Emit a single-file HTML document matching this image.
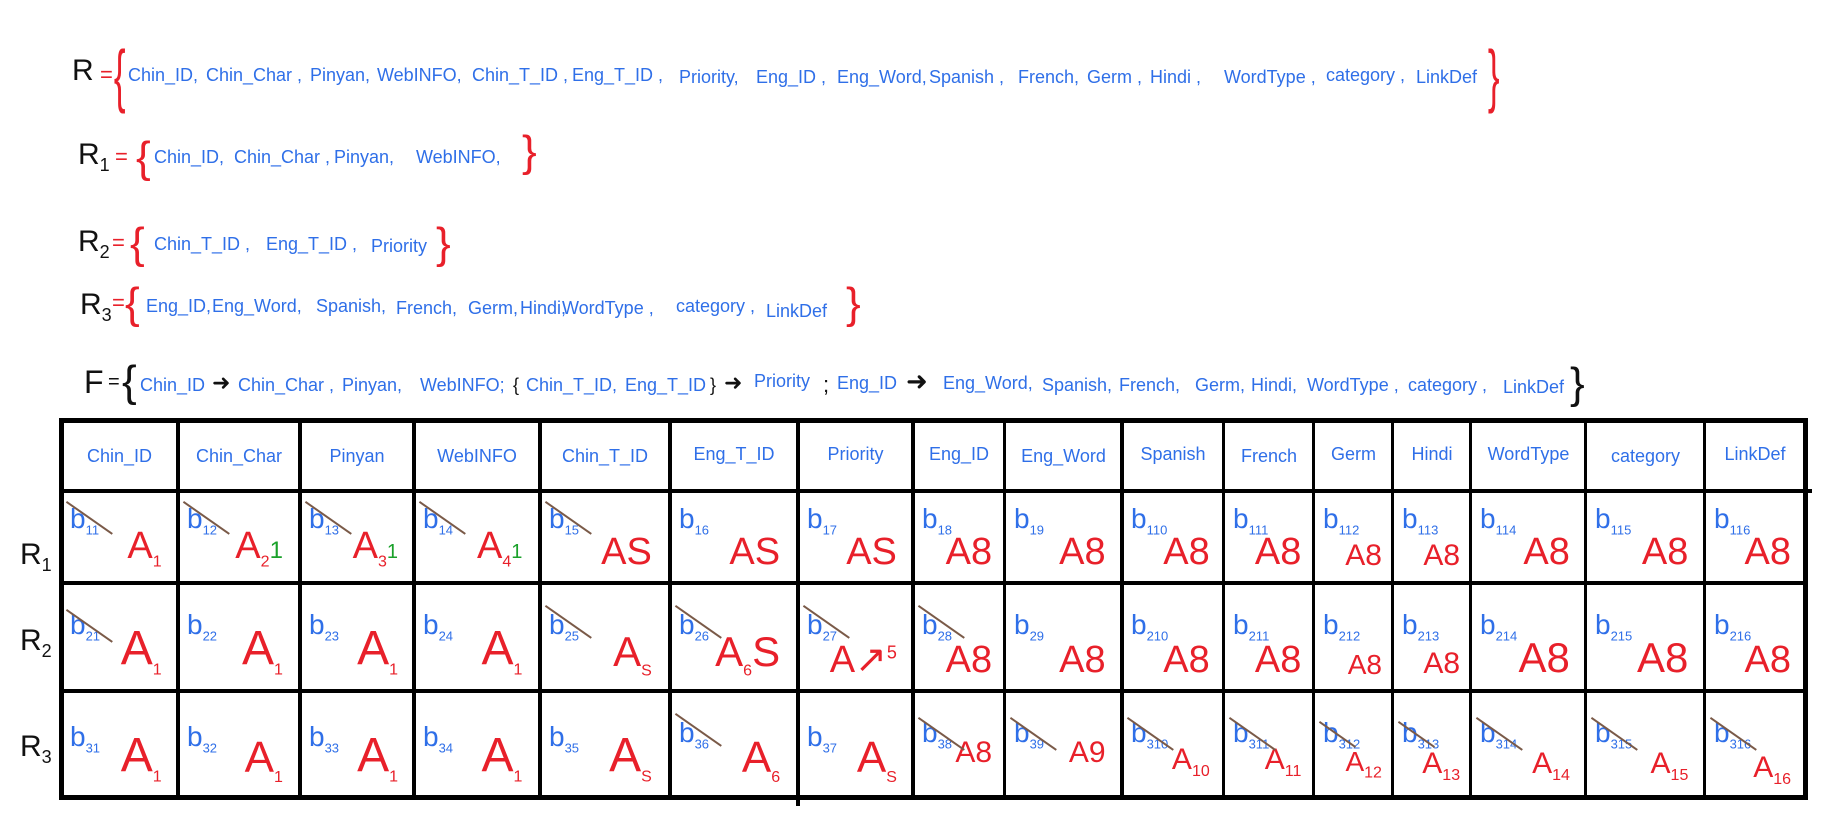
<!DOCTYPE html>
<html><head><meta charset="utf-8"><style>
body{margin:0;width:1828px;height:838px;background:#fff;position:relative;overflow:hidden;font-family:"Liberation Sans",sans-serif}
.t{position:absolute;color:#2f6fe8;font-size:18px;white-space:nowrap;line-height:1}
.L{position:absolute;color:#111;font-size:30px;line-height:1}
.L sub{font-size:18px}
.br{position:absolute;color:#e8202a;font-size:44px;line-height:1;font-weight:300}
.eq{position:absolute;color:#e8202a;font-size:22px;line-height:1}
.h{position:absolute;background:#000}
.hd{position:absolute;color:#2f6fe8;font-size:18px;text-align:center;top:446px;line-height:20px}
.c{position:absolute}
.c .b{position:absolute;left:9px;top:14px;color:#2f6fe8;font-size:28px;line-height:1;font-family:"Liberation Sans Narrow","Liberation Sans",sans-serif}
.c .b sub{font-size:13px}
.c .a{position:absolute;right:14%;bottom:12px;color:#e8202a;font-size:38px;line-height:1;font-family:"Liberation Sans Narrow","Liberation Sans",sans-serif}
.c .a sub{font-size:16px}
.c .x{position:absolute;left:6px;width:56px;height:2px;background:#7a5a48;transform:rotate(35deg);transform-origin:0 0;top:10px}
</style></head><body>
<div class="L" style="left:72px;top:56px">R</div>
<div class="eq" style="left:100px;top:64px">=</div>
<div class="br" style="left:108px;top:40px;font-size:70px;transform:scaleX(.5)">{</div>
<div class="t" style="left:128px;top:66px">Chin_ID,</div><div class="t" style="left:206px;top:66px">Chin_Char ,</div><div class="t" style="left:310px;top:66px">Pinyan,</div><div class="t" style="left:377px;top:66px">WebINFO,</div><div class="t" style="left:472px;top:66px">Chin_T_ID ,</div><div class="t" style="left:572px;top:66px">Eng_T_ID ,</div><div class="t" style="left:679px;top:68px">Priority,</div><div class="t" style="left:756px;top:68px">Eng_ID ,</div><div class="t" style="left:837px;top:68px">Eng_Word,</div><div class="t" style="left:929px;top:68px">Spanish ,</div><div class="t" style="left:1018px;top:68px">French,</div><div class="t" style="left:1087px;top:68px">Germ ,</div><div class="t" style="left:1150px;top:68px">Hindi ,</div><div class="t" style="left:1224px;top:68px">WordType ,</div><div class="t" style="left:1326px;top:66px">category ,</div><div class="t" style="left:1416px;top:68px">LinkDef</div>
<div class="br" style="left:1482px;top:40px;font-size:70px;transform:scaleX(.5)">}</div>
<div class="L" style="left:78px;top:140px">R<sub>1</sub></div>
<div class="eq" style="left:115px;top:146px">=</div>
<div class="br" style="left:136px;top:136px">{</div>
<div class="t" style="left:154px;top:148px">Chin_ID,</div><div class="t" style="left:234px;top:148px">Chin_Char ,</div><div class="t" style="left:334px;top:148px">Pinyan,</div><div class="t" style="left:416px;top:148px">WebINFO,</div>
<div class="br" style="left:522px;top:130px">}</div>
<div class="L" style="left:78px;top:227px">R<sub>2</sub></div>
<div class="eq" style="left:112px;top:232px">=</div>
<div class="br" style="left:130px;top:222px">{</div>
<div class="t" style="left:154px;top:235px">Chin_T_ID ,</div><div class="t" style="left:266px;top:235px">Eng_T_ID ,</div><div class="t" style="left:371px;top:237px">Priority</div>
<div class="br" style="left:436px;top:222px">}</div>
<div class="L" style="left:80px;top:290px">R<sub>3</sub></div>
<div class="eq" style="left:112px;top:292px">=</div>
<div class="br" style="left:125px;top:282px">{</div>
<div class="t" style="left:146px;top:297px">Eng_ID,</div><div class="t" style="left:212px;top:297px">Eng_Word,</div><div class="t" style="left:316px;top:297px">Spanish,</div><div class="t" style="left:396px;top:299px">French,</div><div class="t" style="left:468px;top:299px">Germ,</div><div class="t" style="left:520px;top:299px">Hindi,</div><div class="t" style="left:562px;top:299px">WordType ,</div><div class="t" style="left:676px;top:297px">category ,</div><div class="t" style="left:766px;top:302px">LinkDef</div>
<div class="br" style="left:846px;top:282px">}</div>
<div class="L" style="left:84px;top:366px;font-size:32px">F</div>
<div class="L" style="left:108px;top:372px;font-size:20px">=</div>
<div class="br" style="left:122px;top:360px;color:#111">{</div>
<div class="t" style="left:140px;top:376px">Chin_ID</div><div class="L" style="left:212px;top:372px;font-size:22px">➜</div><div class="t" style="left:238px;top:376px">Chin_Char ,</div><div class="t" style="left:342px;top:376px">Pinyan,</div><div class="t" style="left:420px;top:376px">WebINFO;</div>
<div class="t" style="left:513px;top:376px;color:#111">{</div><div class="t" style="left:526px;top:376px">Chin_T_ID,</div><div class="t" style="left:625px;top:376px">Eng_T_ID</div><div class="t" style="left:710px;top:376px;color:#111">}</div><div class="L" style="left:724px;top:372px;font-size:22px">➜</div><div class="t" style="left:754px;top:372px">Priority</div><div class="L" style="left:823px;top:374px;font-size:22px">;</div>
<div class="t" style="left:837px;top:374px">Eng_ID</div><div class="L" style="left:906px;top:368px;font-size:26px">➜</div><div class="t" style="left:943px;top:374px">Eng_Word,</div><div class="t" style="left:1042px;top:376px">Spanish,</div><div class="t" style="left:1119px;top:376px">French,</div><div class="t" style="left:1195px;top:376px">Germ,</div><div class="t" style="left:1251px;top:376px">Hindi,</div><div class="t" style="left:1307px;top:376px">WordType ,</div><div class="t" style="left:1408px;top:376px">category ,</div><div class="t" style="left:1503px;top:378px">LinkDef</div>
<div class="br" style="left:1570px;top:362px;color:#111">}</div>
<div class="h" style="left:60px;top:418px;width:1748px;height:5px"></div>
<div class="h" style="left:60px;top:489px;width:1752px;height:4px"></div>
<div class="h" style="left:60px;top:581px;width:1748px;height:4px"></div>
<div class="h" style="left:60px;top:689px;width:1748px;height:4px"></div>
<div class="h" style="left:60px;top:795px;width:1748px;height:5px"></div>
<div class="h" style="left:59px;top:418px;width:5px;height:382px"></div>
<div class="h" style="left:176px;top:418px;width:4px;height:382px"></div>
<div class="h" style="left:298px;top:418px;width:4px;height:382px"></div>
<div class="h" style="left:412px;top:418px;width:4px;height:382px"></div>
<div class="h" style="left:538px;top:418px;width:4px;height:382px"></div>
<div class="h" style="left:668px;top:418px;width:4px;height:382px"></div>
<div class="h" style="left:796px;top:418px;width:4px;height:388px"></div>
<div class="h" style="left:911px;top:418px;width:4px;height:382px"></div>
<div class="h" style="left:1003px;top:418px;width:3px;height:382px"></div>
<div class="h" style="left:1120px;top:418px;width:4px;height:382px"></div>
<div class="h" style="left:1222px;top:418px;width:3px;height:382px"></div>
<div class="h" style="left:1312px;top:418px;width:3px;height:382px"></div>
<div class="h" style="left:1391px;top:418px;width:3px;height:382px"></div>
<div class="h" style="left:1469px;top:418px;width:3px;height:382px"></div>
<div class="h" style="left:1584px;top:418px;width:3px;height:382px"></div>
<div class="h" style="left:1703px;top:418px;width:3px;height:382px"></div>
<div class="h" style="left:1803px;top:418px;width:5px;height:382px"></div>
<div class="hd" style="left:61px;width:117px">Chin_ID</div><div class="hd" style="left:178px;width:122px">Chin_Char</div><div class="hd" style="left:300px;width:114px">Pinyan</div><div class="hd" style="left:414px;width:126px">WebINFO</div><div class="hd" style="left:540px;width:130px">Chin_T_ID</div><div class="hd" style="left:670px;width:128px;top:444px">Eng_T_ID</div><div class="hd" style="left:798px;width:115px;top:444px">Priority</div><div class="hd" style="left:913px;width:92px;top:444px">Eng_ID</div><div class="hd" style="left:1005px;width:117px">Eng_Word</div><div class="hd" style="left:1122px;width:102px;top:444px">Spanish</div><div class="hd" style="left:1224px;width:90px">French</div><div class="hd" style="left:1314px;width:79px;top:444px">Germ</div><div class="hd" style="left:1393px;width:78px;top:444px">Hindi</div><div class="hd" style="left:1471px;width:115px;top:444px">WordType</div><div class="hd" style="left:1586px;width:119px">category</div><div class="hd" style="left:1705px;width:100px;top:444px">LinkDef</div>
<div class="L" style="left:20px;top:540px">R<sub>1</sub></div>
<div class="L" style="left:20px;top:626px">R<sub>2</sub></div>
<div class="L" style="left:20px;top:732px">R<sub>3</sub></div>
<div class="c" style="left:61px;top:491px;width:117px;height:92px"><span class="b">b<sub>11</sub></span><span class="a">A<sub>1</sub></span><i class="x"></i></div>
<div class="c" style="left:178px;top:491px;width:122px;height:92px"><span class="b">b<sub>12</sub></span><span class="a">A<sub>2</sub><span style="color:#1aa12a;font-size:24px">1</span></span><i class="x"></i></div>
<div class="c" style="left:300px;top:491px;width:114px;height:92px"><span class="b">b<sub>13</sub></span><span class="a">A<sub>3</sub><span style="color:#1aa12a;font-size:20px">1</span></span><i class="x"></i></div>
<div class="c" style="left:414px;top:491px;width:126px;height:92px"><span class="b">b<sub>14</sub></span><span class="a">A<sub>4</sub><span style="color:#1aa12a;font-size:20px">1</span></span><i class="x"></i></div>
<div class="c" style="left:540px;top:491px;width:130px;height:92px"><span class="b">b<sub>15</sub></span><span class="a">AS</span><i class="x"></i></div>
<div class="c" style="left:670px;top:491px;width:128px;height:92px"><span class="b">b<sub>16</sub></span><span class="a">AS</span></div>
<div class="c" style="left:798px;top:491px;width:115px;height:92px"><span class="b">b<sub>17</sub></span><span class="a">AS</span></div>
<div class="c" style="left:913px;top:491px;width:92px;height:92px"><span class="b">b<sub>18</sub></span><span class="a">A8</span></div>
<div class="c" style="left:1005px;top:491px;width:117px;height:92px"><span class="b">b<sub>19</sub></span><span class="a">A8</span></div>
<div class="c" style="left:1122px;top:491px;width:102px;height:92px"><span class="b">b<sub>110</sub></span><span class="a">A8</span></div>
<div class="c" style="left:1224px;top:491px;width:90px;height:92px"><span class="b">b<sub>111</sub></span><span class="a">A8</span></div>
<div class="c" style="left:1314px;top:491px;width:79px;height:92px"><span class="b">b<sub>112</sub></span><span class="a" style="font-size:30px">A8</span></div>
<div class="c" style="left:1393px;top:491px;width:78px;height:92px"><span class="b">b<sub>113</sub></span><span class="a" style="font-size:30px">A8</span></div>
<div class="c" style="left:1471px;top:491px;width:115px;height:92px"><span class="b">b<sub>114</sub></span><span class="a">A8</span></div>
<div class="c" style="left:1586px;top:491px;width:119px;height:92px"><span class="b">b<sub>115</sub></span><span class="a">A8</span></div>
<div class="c" style="left:1705px;top:491px;width:100px;height:92px"><span class="b">b<sub>116</sub></span><span class="a">A8</span></div>
<div class="c" style="left:61px;top:583px;width:117px;height:108px"><span class="b" style="top:28px">b<sub>21</sub></span><span class="a" style="font-size:48px">A<sub>1</sub></span><i class="x" style="top:26px"></i></div>
<div class="c" style="left:178px;top:583px;width:122px;height:108px"><span class="b" style="top:28px">b<sub>22</sub></span><span class="a" style="font-size:48px">A<sub>1</sub></span></div>
<div class="c" style="left:300px;top:583px;width:114px;height:108px"><span class="b" style="top:28px">b<sub>23</sub></span><span class="a" style="font-size:48px">A<sub>1</sub></span></div>
<div class="c" style="left:414px;top:583px;width:126px;height:108px"><span class="b" style="top:28px">b<sub>24</sub></span><span class="a" style="font-size:48px">A<sub>1</sub></span></div>
<div class="c" style="left:540px;top:583px;width:130px;height:108px"><span class="b" style="top:28px">b<sub>25</sub></span><span class="a" style="font-size:42px">A<sub>S</sub></span><i class="x" style="top:22px"></i></div>
<div class="c" style="left:670px;top:583px;width:128px;height:108px"><span class="b" style="top:28px">b<sub>26</sub></span><span class="a" style="font-size:42px">A<sub>6</sub>S</span><i class="x" style="top:22px"></i></div>
<div class="c" style="left:798px;top:583px;width:115px;height:108px"><span class="b" style="top:28px">b<sub>27</sub></span><span class="a" style="font-size:38px">A↗<sup style="font-size:18px">5</sup></span><i class="x" style="top:22px"></i></div>
<div class="c" style="left:913px;top:583px;width:92px;height:108px"><span class="b" style="top:28px">b<sub>28</sub></span><span class="a">A8</span><i class="x" style="top:22px"></i></div>
<div class="c" style="left:1005px;top:583px;width:117px;height:108px"><span class="b" style="top:28px">b<sub>29</sub></span><span class="a">A8</span></div>
<div class="c" style="left:1122px;top:583px;width:102px;height:108px"><span class="b" style="top:28px">b<sub>210</sub></span><span class="a">A8</span></div>
<div class="c" style="left:1224px;top:583px;width:90px;height:108px"><span class="b" style="top:28px">b<sub>211</sub></span><span class="a">A8</span></div>
<div class="c" style="left:1314px;top:583px;width:79px;height:108px"><span class="b" style="top:28px">b<sub>212</sub></span><span class="a" style="font-size:28px">A8</span></div>
<div class="c" style="left:1393px;top:583px;width:78px;height:108px"><span class="b" style="top:28px">b<sub>213</sub></span><span class="a" style="font-size:30px">A8</span></div>
<div class="c" style="left:1471px;top:583px;width:115px;height:108px"><span class="b" style="top:28px">b<sub>214</sub></span><span class="a" style="font-size:42px">A8</span></div>
<div class="c" style="left:1586px;top:583px;width:119px;height:108px"><span class="b" style="top:28px">b<sub>215</sub></span><span class="a" style="font-size:42px">A8</span></div>
<div class="c" style="left:1705px;top:583px;width:100px;height:108px"><span class="b" style="top:28px">b<sub>216</sub></span><span class="a">A8</span></div>
<div class="c" style="left:61px;top:691px;width:117px;height:107px"><span class="b" style="top:32px">b<sub>31</sub></span><span class="a" style="font-size:48px">A<sub>1</sub></span></div>
<div class="c" style="left:178px;top:691px;width:122px;height:107px"><span class="b" style="top:32px">b<sub>32</sub></span><span class="a" style="font-size:44px">A<sub>1</sub></span></div>
<div class="c" style="left:300px;top:691px;width:114px;height:107px"><span class="b" style="top:32px">b<sub>33</sub></span><span class="a" style="font-size:48px">A<sub>1</sub></span></div>
<div class="c" style="left:414px;top:691px;width:126px;height:107px"><span class="b" style="top:32px">b<sub>34</sub></span><span class="a" style="font-size:48px">A<sub>1</sub></span></div>
<div class="c" style="left:540px;top:691px;width:130px;height:107px"><span class="b" style="top:32px">b<sub>35</sub></span><span class="a" style="font-size:48px">A<sub>S</sub></span></div>
<div class="c" style="left:670px;top:691px;width:128px;height:107px"><span class="b" style="top:28px">b<sub>36</sub></span><span class="a" style="font-size:44px">A<sub>6</sub></span><i class="x" style="top:22px"></i></div>
<div class="c" style="left:798px;top:691px;width:115px;height:107px"><span class="b" style="top:32px">b<sub>37</sub></span><span class="a" style="font-size:44px">A<sub>S</sub></span></div>
<div class="c" style="left:913px;top:691px;width:92px;height:107px"><span class="b" style="top:28px">b<sub>38</sub></span><span class="a" style="bottom:30px;font-size:30px">A8</span><i class="x" style="top:26px"></i></div>
<div class="c" style="left:1005px;top:691px;width:117px;height:107px"><span class="b" style="top:28px">b<sub>39</sub></span><span class="a" style="bottom:30px;font-size:30px">A9</span><i class="x" style="top:26px"></i></div>
<div class="c" style="left:1122px;top:691px;width:102px;height:107px"><span class="b" style="top:28px">b<sub>310</sub></span><span class="a" style="bottom:18px;font-size:30px">A<sub>10</sub></span><i class="x" style="top:26px"></i></div>
<div class="c" style="left:1224px;top:691px;width:90px;height:107px"><span class="b" style="top:28px">b<sub>311</sub></span><span class="a" style="bottom:18px;font-size:30px">A<sub>11</sub></span><i class="x" style="top:26px"></i></div>
<div class="c" style="left:1314px;top:691px;width:79px;height:107px"><span class="b" style="top:28px">b<sub>312</sub></span><span class="a" style="bottom:16px;font-size:28px">A<sub>12</sub></span><i class="x" style="top:30px;width:44px"></i></div>
<div class="c" style="left:1393px;top:691px;width:78px;height:107px"><span class="b" style="top:28px">b<sub>313</sub></span><span class="a" style="bottom:14px;font-size:30px">A<sub>13</sub></span><i class="x" style="top:30px;width:44px"></i></div>
<div class="c" style="left:1471px;top:691px;width:115px;height:107px"><span class="b" style="top:28px">b<sub>314</sub></span><span class="a" style="bottom:14px;font-size:30px">A<sub>14</sub></span><i class="x" style="top:26px"></i></div>
<div class="c" style="left:1586px;top:691px;width:119px;height:107px"><span class="b" style="top:28px">b<sub>315</sub></span><span class="a" style="bottom:14px;font-size:30px">A<sub>15</sub></span><i class="x" style="top:26px"></i></div>
<div class="c" style="left:1705px;top:691px;width:100px;height:107px"><span class="b" style="top:28px">b<sub>316</sub></span><span class="a" style="bottom:10px;font-size:30px">A<sub>16</sub></span><i class="x" style="top:26px"></i></div>
</body></html>
